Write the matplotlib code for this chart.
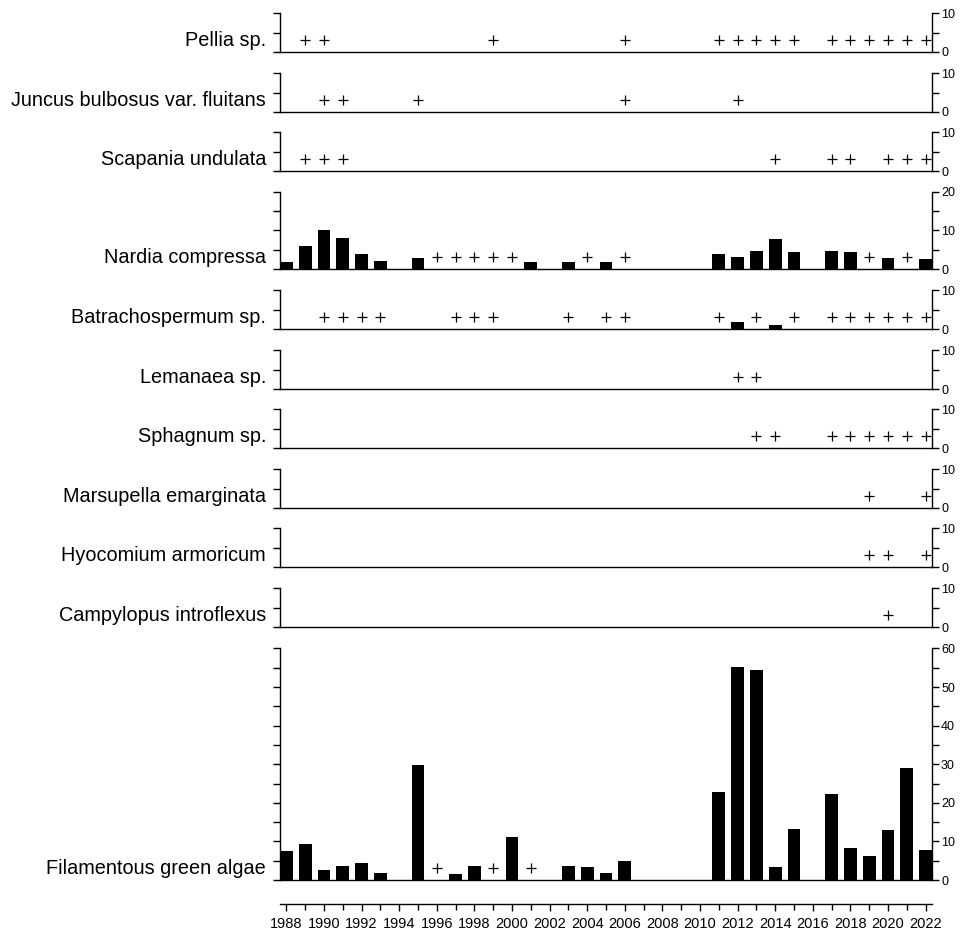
import matplotlib
matplotlib.use("Agg")
import matplotlib.pyplot as plt
import matplotlib.transforms as mtransforms
from matplotlib.ticker import MultipleLocator, NullFormatter

plt.rcParams["font.family"] = ["Liberation Sans", "DejaVu Sans"]

# data (bar = abundance, plus = present only)
first_year = 1988
last_year = 2022

pellia_plus = [1989, 1990, 1999, 2006, 2011, 2012, 2013, 2014, 2015,
               2017, 2018, 2019, 2020, 2021, 2022]
juncus_plus = [1990, 1991, 1995, 2006, 2012]
scapania_plus = [1989, 1990, 1991, 2014, 2017, 2018, 2020, 2021, 2022]

nardia_years = [1988, 1989, 1990, 1991, 1992, 1993, 1995, 2001, 2003, 2005,
                2011, 2012, 2013, 2014, 2015, 2017, 2018, 2020, 2022]
nardia_values = [1.8, 5.9, 10.2, 8.0, 3.9, 2.2, 2.9, 1.8, 1.8, 1.8,
                 3.9, 3.2, 4.7, 7.8, 4.3, 4.7, 4.3, 2.9, 2.6]
nardia_plus = [1996, 1997, 1998, 1999, 2000, 2004, 2006, 2019, 2021]

batracho_years = [2012, 2014]
batracho_values = [1.9, 1.1]
batracho_plus = [1990, 1991, 1992, 1993, 1997, 1998, 1999, 2003, 2005, 2006,
                 2011, 2013, 2015, 2017, 2018, 2019, 2020, 2021, 2022]

lemanaea_plus = [2012, 2013]
sphagnum_plus = [2013, 2014, 2017, 2018, 2019, 2020, 2021, 2022]
marsupella_plus = [2019, 2022]
hyocomium_plus = [2019, 2020, 2022]
campylopus_plus = [2020]

algae_years = [1988, 1989, 1990, 1991, 1992, 1993, 1995, 1997, 1998, 2000,
               2003, 2004, 2005, 2006, 2011, 2012, 2013, 2014, 2015, 2017,
               2018, 2019, 2020, 2021, 2022]
algae_values = [7.6, 9.3, 2.7, 3.7, 4.3, 1.9, 29.8, 1.6, 3.7, 11.2,
                3.7, 3.4, 1.9, 4.9, 22.8, 55.3, 54.3, 3.4, 13.3, 22.4,
                8.3, 6.1, 12.9, 29.0, 7.9]
algae_plus = [1996, 1999, 2001]

# name, bar years, bar values, plus years, y max
panels = [
    ("Pellia sp.", [], [], pellia_plus, 10),
    ("Juncus bulbosus var. fluitans", [], [], juncus_plus, 10),
    ("Scapania undulata", [], [], scapania_plus, 10),
    ("Nardia compressa", nardia_years, nardia_values, nardia_plus, 20),
    ("Batrachospermum sp.", batracho_years, batracho_values, batracho_plus, 10),
    ("Lemanaea sp.", [], [], lemanaea_plus, 10),
    ("Sphagnum sp.", [], [], sphagnum_plus, 10),
    ("Marsupella emarginata", [], [], marsupella_plus, 10),
    ("Hyocomium armoricum", [], [], hyocomium_plus, 10),
    ("Campylopus introflexus", [], [], campylopus_plus, 10),
    ("Filamentous green algae", algae_years, algae_values, algae_plus, 60),
]

# layout (pixels)
W, H = 962, 938
left_px, right_px = 280, 932
baselines_px = [52, 112, 171, 269, 329, 389, 448, 508, 567, 627, 880]
px_per_unit = 3.86
bar_w = 0.68
plus_y = 3
xlim = (first_year - bar_w / 2, last_year + bar_w / 2)

fig = plt.figure(figsize=(W / 100, H / 100), dpi=100)

for (name, bx, bv, plus, ymax), base in zip(panels, baselines_px):
    h = ymax * px_per_unit
    ax = fig.add_axes([left_px / W, (H - base) / H, (right_px - left_px) / W, h / H])
    if bx:
        ax.bar(bx, bv, width=bar_w, color="black", linewidth=0)
    ax.plot(plus, [plus_y] * len(plus), linestyle="none", marker="+",
            markersize=7.8, markeredgewidth=0.9, color="black", clip_on=False)
    ax.set_xlim(*xlim)
    ax.set_ylim(0, ymax)
    ax.spines["top"].set_visible(False)
    for s in ("left", "right", "bottom"):
        ax.spines[s].set_linewidth(1.0)
    ax.set_xticks([])
    ax.yaxis.set_major_locator(MultipleLocator(10))
    ax.yaxis.set_minor_locator(MultipleLocator(5))
    ax.yaxis.set_minor_formatter(NullFormatter())
    ax.tick_params(axis="y", which="both", left=True, right=True,
                   labelleft=False, labelright=True, direction="out",
                   length=5, width=1.0, pad=1.5, labelsize=9)
    trans = mtransforms.blended_transform_factory(ax.transAxes, ax.transData)
    ax.annotate(name, xy=(0, 0), xycoords=trans, xytext=(-14, 6),
                textcoords="offset pixels", ha="right", va="baseline",
                fontsize=14.3)

# year axis below the panels
axb = fig.add_axes([left_px / W, (H - 904) / H, (right_px - left_px) / W, 0.0005])
axb.set_xlim(*xlim)
axb.set_yticks([])
for s in ("left", "right", "top"):
    axb.spines[s].set_visible(False)
axb.spines["bottom"].set_linewidth(1.0)
axb.set_xticks(list(range(first_year, last_year + 1, 2)))
axb.set_xticks(list(range(first_year + 1, last_year + 1, 2)), minor=True)
axb.tick_params(axis="x", which="major", direction="out", length=5,
                width=1.0, labelsize=10.5, pad=4)
axb.tick_params(axis="x", which="minor", direction="out", length=4, width=1.0)

fig.savefig("out.png", dpi=100)
